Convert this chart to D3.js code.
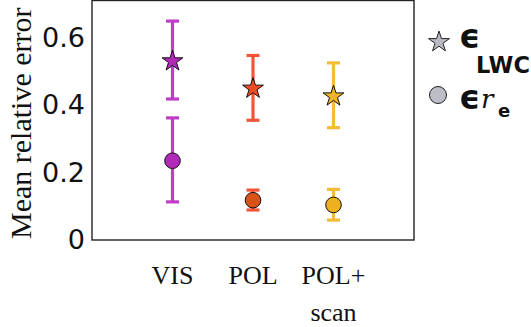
<!DOCTYPE html>
<html>
<head>
<meta charset="utf-8">
<script src="https://cdn.jsdelivr.net/npm/d3@7"></script>
<style>
  html, body { margin: 0; padding: 0; background: #fff; }
</style>
</head>
<body>
<div id="chart"></div>
<script>
// categories and values
const categories = ['VIS', 'POL', 'POL+\nscan'];
const lwcMean = [0.533, 0.452, 0.429];
const lwcLow  = [0.418, 0.355, 0.333];
const lwcHigh = [0.649, 0.547, 0.525];
const reMean  = [0.235, 0.118, 0.104];
const reLow   = [0.113, 0.089, 0.059];
const reHigh  = [0.362, 0.148, 0.150];
const yTicks  = [0, 0.2, 0.4, 0.6];
const yTickLabels = ['0', '0.2', '0.4', '0.6'];

const starColors = ['#b12ab9', '#f04c24', '#f0b428'];
const dotColors  = ['#b12ab9', '#d95319', '#edb120'];
const barColors  = ['#c03ec7', '#f2553a', '#f2bb38'];

const width = 531, height = 327;
const box = { left: 92, right: 414, top: 0.5, bottom: 240 };

const svg = d3.select('#chart').append('svg')
    .attr('width', width)
    .attr('height', height)
    .attr('viewBox', [0, 0, width, height]);

const x = d3.scalePoint()
    .domain(categories)
    .range([box.left, box.right])
    .padding(1);

const y = d3.scaleLinear()
    .domain([0, 0.71])
    .range([box.bottom, box.top]);

// frame
svg.append('rect')
    .attr('x', box.left).attr('y', box.top)
    .attr('width', box.right - box.left)
    .attr('height', box.bottom - box.top)
    .attr('fill', 'none')
    .attr('stroke', '#222')
    .attr('stroke-width', 1.4);

// y axis, labels only
const yAxis = d3.axisLeft(y)
    .tickValues(yTicks)
    .tickFormat((d, i) => yTickLabels[i])
    .tickSize(0)
    .tickPadding(7);

svg.append('g')
    .attr('transform', `translate(${box.left},0)`)
    .call(yAxis)
    .call(g => g.select('.domain').remove())
    .call(g => g.selectAll('.tick text')
        .attr('font-family', 'DejaVu Sans')
        .attr('font-size', 27)
        .attr('fill', '#111'));

svg.append('text')
    .attr('transform', `translate(31, ${(box.top + box.bottom) / 2 + 3}) rotate(-90)`)
    .attr('text-anchor', 'middle')
    .attr('font-family', 'Liberation Serif')
    .attr('font-size', 30)
    .attr('fill', '#111')
    .text('Mean relative error');

// x axis labels
const xLab = svg.append('g')
    .selectAll('text')
    .data(categories)
    .join('text')
    .attr('text-anchor', 'middle')
    .attr('font-family', 'Liberation Serif')
    .attr('font-size', 26)
    .attr('fill', '#111')
    .attr('x', d => x(d));
xLab.selectAll('tspan')
    .data(d => d.split('\n').map(s => ({ s, c: d })))
    .join('tspan')
    .attr('x', d => x(d.c))
    .attr('y', (d, i) => 284 + i * 37)
    .text(d => d.s);

// error bars
function errorBars(low, high) {
    const g = svg.append('g');
    categories.forEach((c, i) => {
        const cx = x(c);
        g.append('line')
            .attr('x1', cx).attr('x2', cx)
            .attr('y1', y(low[i])).attr('y2', y(high[i]))
            .attr('stroke', barColors[i]).attr('stroke-width', 3.2);
        [low[i], high[i]].forEach(v => {
            g.append('line')
                .attr('x1', cx - 6.5).attr('x2', cx + 6.5)
                .attr('y1', y(v)).attr('y2', y(v))
                .attr('stroke', barColors[i]).attr('stroke-width', 3.2);
        });
    });
}
errorBars(lwcLow, lwcHigh);
errorBars(reLow, reHigh);

const star = d3.symbol().type(d3.symbolStar).size(135);

svg.append('g')
    .selectAll('path')
    .data(categories)
    .join('path')
    .attr('d', star)
    .attr('transform', (d, i) => `translate(${x(d)},${y(lwcMean[i]) + 1})`)
    .attr('fill', (d, i) => starColors[i])
    .attr('stroke', '#111')
    .attr('stroke-width', 1);

svg.append('g')
    .selectAll('circle')
    .data(categories)
    .join('circle')
    .attr('cx', d => x(d))
    .attr('cy', (d, i) => y(reMean[i]))
    .attr('r', 7.8)
    .attr('fill', (d, i) => dotColors[i])
    .attr('stroke', '#111')
    .attr('stroke-width', 1);

// legend
const legend = svg.append('g');
legend.append('path')
    .attr('d', star)
    .attr('transform', 'translate(439,42)')
    .attr('fill', '#b9b9c3')
    .attr('stroke', '#222')
    .attr('stroke-width', 1);
legend.append('circle')
    .attr('cx', 438).attr('cy', 95).attr('r', 8.5)
    .attr('fill', '#bdbdc7')
    .attr('stroke', '#222')
    .attr('stroke-width', 1);

legend.append('text')
    .attr('x', 459).attr('y', 48)
    .attr('font-family', 'DejaVu Sans').attr('font-weight', 'bold')
    .attr('font-size', 33).attr('fill', '#111')
    .text('ϵ');
legend.append('text')
    .attr('x', 476).attr('y', 73)
    .attr('font-family', 'DejaVu Sans').attr('font-weight', 'bold')
    .attr('font-size', 22.5).attr('fill', '#111')
    .text('LWC');

legend.append('text')
    .attr('x', 459).attr('y', 109)
    .attr('font-family', 'DejaVu Sans').attr('font-weight', 'bold')
    .attr('font-size', 33).attr('fill', '#111')
    .text('ϵ');
legend.append('text')
    .attr('x', 481).attr('y', 108)
    .attr('font-family', 'DejaVu Serif').attr('font-style', 'italic')
    .attr('font-size', 26).attr('fill', '#111')
    .text('r');
legend.append('text')
    .attr('x', 498).attr('y', 117)
    .attr('font-family', 'DejaVu Sans').attr('font-weight', 'bold')
    .attr('font-size', 18).attr('fill', '#111')
    .text('e');
</script>
</body>
</html>
